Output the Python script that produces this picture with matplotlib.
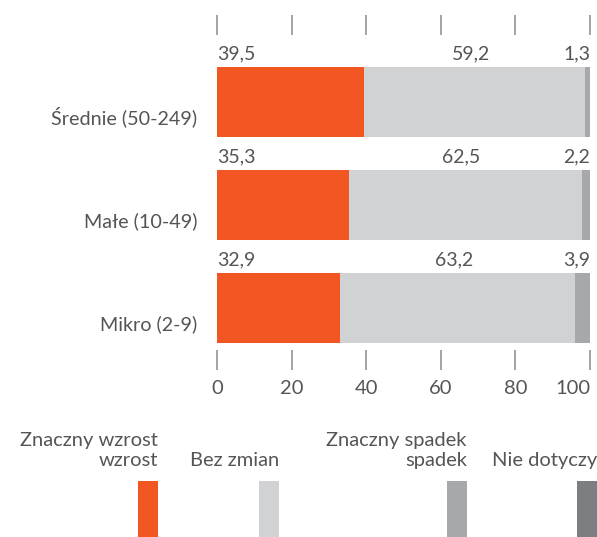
import numpy as np
import matplotlib
matplotlib.use("Agg")
import matplotlib.pyplot as plt
from matplotlib.patches import Rectangle

plt.rcParams['font.family'] = ['Lato', 'DejaVu Sans']

# dane
categories = ['Średnie (50-249)', 'Małe (10-49)', 'Mikro (2-9)']
znaczny_wzrost = [39.5, 35.3, 32.9]
bez_zmian = [59.2, 62.5, 63.2]
znaczny_spadek = [1.3, 2.2, 3.9]
xticks = [0, 20, 40, 60, 80, 100]

legend_labels = ['Znaczny wzrost\nwzrost', 'Bez zmian', 'Znaczny spadek\nspadek', 'Nie dotyczy']
colors = ['#f15623', '#d1d2d4', '#a7a8ab', '#7d7e81']
txt = '#555555'

W, H = 597, 537
fig = plt.figure(figsize=(W / 100, H / 100), dpi=100)
ax = fig.add_axes([217 / W, 1 - 350 / H, (590 - 217) / W, (350 - 35) / H])

y = np.arange(len(categories))
bh = 0.68
left = np.zeros(len(categories))
for vals, c in zip([znaczny_wzrost, bez_zmian, znaczny_spadek], colors):
    ax.barh(y, vals, left=left, height=bh, color=c, linewidth=0)
    left = left + np.array(vals)

fmt = lambda v: f'{v}'.replace('.', ',')
for i in range(len(categories)):
    top = y[i] - bh / 2 - 0.04
    ax.text(0, top, fmt(znaczny_wzrost[i]), ha='left', va='bottom', fontsize=14, color=txt)
    mid = znaczny_wzrost[i] + bez_zmian[i] / 2 - 1
    ax.text(mid, top, fmt(bez_zmian[i]), ha='center', va='bottom', fontsize=14, color=txt)
    ax.text(100, top, fmt(znaczny_spadek[i]), ha='right', va='bottom', fontsize=14, color=txt)
    ax.text(-5.2, y[i] + bh / 2 - 0.09, categories[i], ha='right', va='bottom',
            fontsize=14.2, color=txt)

ax.set_xlim(0, 100)
ax.set_ylim(2.41, -0.65)
ax.set_xticks(xticks)
ax.set_xticklabels([str(t) for t in xticks], fontsize=14.5, color=txt)
ax.get_xticklabels()[-1].set_ha('right')
ax.set_yticks([])
ax.tick_params(axis='x', direction='out', length=14.4, width=1.1, color='#8a8a8a',
               top=True, labeltop=False, pad=7)
for s in ax.spines.values():
    s.set_visible(False)

# legenda
leg_right = [158, 279, 467, 597]
for lab, c, r in zip(legend_labels, colors, leg_right):
    fig.patches.append(Rectangle(((r - 20) / W, 0), 20 / W, (537 - 481) / H,
                                 transform=fig.transFigure, color=c, linewidth=0))
    fig.text(r / W, 1 - 469 / H, lab, ha='right', va='bottom', fontsize=14.5,
             color=txt, linespacing=1.2)

fig.savefig('out.png', dpi=100)
